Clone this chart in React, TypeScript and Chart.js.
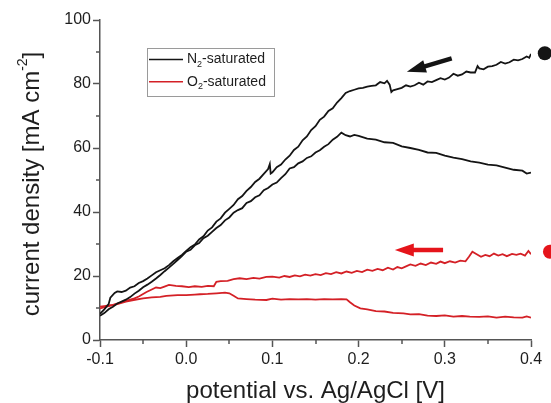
import React, { useEffect, useRef } from 'react';
import { Chart, registerables } from 'chart.js';

Chart.register(...registerables);

// ---------- data (potential in V vs. Ag/AgCl, current density in mA cm^-2) ----------
const n2ForwardV = [
  -0.1, -0.095, -0.09, -0.085, -0.08, -0.075, -0.07, -0.065, -0.06, -0.055, -0.05, -0.045, -0.04, -0.035,
  -0.03, -0.025, -0.02, -0.015, -0.01, -0.005, 0.0, 0.005, 0.01, 0.015, 0.02, 0.025, 0.03, 0.035, 0.04,
  0.045, 0.05, 0.055, 0.06, 0.065, 0.07, 0.075, 0.08, 0.085, 0.09, 0.095, 0.1, 0.105, 0.11, 0.115, 0.12,
  0.125, 0.13, 0.135, 0.14, 0.145, 0.15, 0.155, 0.16, 0.165, 0.17, 0.175, 0.18, 0.185, 0.19, 0.195, 0.2,
  0.21, 0.22, 0.23, 0.24, 0.25, 0.26, 0.27, 0.28, 0.29, 0.3, 0.31, 0.32, 0.33, 0.34, 0.35, 0.36, 0.37,
  0.38, 0.39, 0.395, 0.4,
];
const n2ForwardJ = [
  7.6, 8.4, 9.6, 10.4, 11.4, 12.0, 12.6, 13.4, 14.5, 15.4, 16.5, 17.3, 18.2, 19.2,
  20.3, 21.5, 22.6, 23.8, 25.0, 26.2, 27.6, 28.2, 29.6, 30.3, 31.8, 32.6, 33.8, 35.0, 35.9,
  37.4, 38.3, 39.8, 40.6, 41.2, 42.8, 43.4, 44.6, 45.2, 46.8, 47.5, 48.6, 49.2, 50.6, 51.8, 53.6,
  54.0, 55.2, 55.8, 56.9, 57.4, 58.6, 59.3, 60.4, 61.2, 62.6, 63.5, 64.8, 64.0, 63.6, 64.1, 63.8,
  62.9, 62.6, 61.8, 61.6, 60.5, 60.0, 59.4, 58.6, 58.5, 57.6, 57.0, 56.5, 55.8, 55.4, 54.8, 54.6, 53.9,
  53.2, 52.9, 52.0, 52.3,
];

const n2ReverseV = [
  0.4, 0.398, 0.395, 0.39, 0.385, 0.38, 0.375, 0.37, 0.365, 0.36, 0.355, 0.35, 0.345, 0.34, 0.338,
  0.335, 0.33, 0.325, 0.32, 0.315, 0.31, 0.305, 0.3, 0.295, 0.29, 0.285, 0.28, 0.275, 0.27, 0.265,
  0.26, 0.255, 0.25, 0.245, 0.24, 0.238, 0.236, 0.233, 0.23, 0.225, 0.22, 0.215, 0.21, 0.205, 0.2,
  0.195, 0.19, 0.185, 0.18, 0.175, 0.17, 0.165, 0.16, 0.155, 0.15, 0.145, 0.14, 0.135, 0.13, 0.125,
  0.12, 0.115, 0.11, 0.105, 0.1, 0.098, 0.097, 0.095, 0.09, 0.085, 0.08, 0.075, 0.07, 0.065, 0.06,
  0.055, 0.05, 0.045, 0.04, 0.035, 0.03, 0.025, 0.02, 0.015, 0.01, 0.005, 0.0, -0.005, -0.01, -0.015,
  -0.02, -0.025, -0.03, -0.035, -0.04, -0.045, -0.05, -0.055, -0.06, -0.065, -0.07, -0.075, -0.08,
  -0.083, -0.088, -0.09, -0.095, -0.1,
];
const n2ReverseJ = [
  89.4, 88.2, 88.6, 87.8, 87.4, 87.6, 86.8, 86.4, 86.9, 86.0, 85.6, 85.4, 84.6, 84.9, 85.6,
  83.6, 83.6, 83.9, 83.0, 82.6, 83.2, 82.0, 81.4, 81.8, 81.2, 80.6, 80.8, 79.8, 80.4, 79.6,
  79.2, 79.6, 78.8, 78.4, 78.0, 77.5, 79.8, 81.0, 80.2, 80.6, 79.6, 79.4, 79.2, 78.8, 78.6,
  78.2, 77.8, 77.2, 75.6, 74.2, 72.4, 71.6, 69.8, 68.8, 66.8, 65.6, 63.6, 62.4, 60.4, 59.4,
  57.6, 56.4, 54.8, 54.0, 52.4, 52.0, 55.0, 53.4, 51.9, 50.4, 49.4, 47.8, 46.6, 45.0, 44.0,
  42.2, 41.0, 39.8, 38.0, 37.0, 35.2, 34.2, 32.4, 31.4, 29.8, 29.0, 27.8, 26.6, 25.6, 24.6,
  23.4, 22.4, 21.8, 21.2, 20.2, 19.2, 18.4, 17.8, 16.8, 16.4, 15.4, 15.0, 15.2,
  14.7, 13.2, 11.2, 9.6, 8.2,
];

const o2ForwardV = [
  -0.1, -0.09, -0.08, -0.07, -0.061, -0.05, -0.04, -0.03, -0.023, -0.01, 0.0, 0.01, 0.016, 0.025,
  0.035, 0.045, 0.05, 0.055, 0.06, 0.07, 0.08, 0.093, 0.1, 0.11, 0.12, 0.13, 0.14, 0.15, 0.16, 0.17,
  0.18, 0.186, 0.19, 0.195, 0.202, 0.21, 0.22, 0.23, 0.24, 0.252, 0.26, 0.27, 0.28, 0.29, 0.3, 0.31,
  0.32, 0.329, 0.34, 0.35, 0.36, 0.37, 0.38, 0.39, 0.395, 0.4,
];
const o2ForwardJ = [
  9.9, 10.6, 11.2, 12.0, 12.5, 13.0, 13.3, 13.5, 13.8, 14.0, 14.0, 14.2, 14.3, 14.4,
  14.6, 14.8, 14.6, 13.8, 13.0, 12.8, 12.6, 12.5, 12.9, 12.6, 12.8, 12.7, 12.8, 12.6, 12.8, 12.7,
  12.8, 12.7, 11.8, 10.8, 9.9, 9.6, 9.0, 8.9, 8.5, 8.3, 8.0, 8.1, 7.6, 7.5, 7.7, 7.3,
  7.5, 7.3, 7.2, 7.4, 7.0, 7.3, 7.1, 7.0, 7.4, 7.0,
];

const o2ReverseV = [
  0.4, 0.397, 0.393, 0.388, 0.383, 0.378, 0.372, 0.367, 0.362, 0.357, 0.352, 0.347, 0.342, 0.337,
  0.332, 0.328, 0.324, 0.318, 0.312, 0.306, 0.3, 0.295, 0.29, 0.284, 0.278, 0.272, 0.266, 0.26, 0.255,
  0.25, 0.245, 0.24, 0.234, 0.228, 0.222, 0.216, 0.21, 0.204, 0.198, 0.192, 0.186, 0.18, 0.174, 0.168,
  0.162, 0.156, 0.15, 0.144, 0.138, 0.132, 0.126, 0.12, 0.114, 0.108, 0.1, 0.093, 0.085, 0.078, 0.07,
  0.062, 0.055, 0.048, 0.04, 0.035, 0.032, 0.025, 0.018, 0.01, 0.003, -0.005, -0.012, -0.02, -0.026,
  -0.03, -0.035, -0.04, -0.046, -0.05, -0.055, -0.06, -0.065, -0.07, -0.075, -0.08, -0.085, -0.09,
  -0.095, -0.1,
];
const o2ReverseJ = [
  26.8, 27.8, 26.4, 27.0, 26.6, 26.9, 26.2, 26.8, 26.4, 27.0, 26.2, 26.6, 26.0, 26.8,
  27.6, 26.0, 24.6, 24.8, 24.2, 24.6, 24.0, 24.5, 23.8, 24.2, 23.4, 23.9, 23.2, 23.6, 23.0,
  22.4, 22.8, 22.0, 22.6, 21.8, 22.2, 21.6, 22.0, 21.2, 21.6, 21.0, 21.4, 20.8, 21.2, 20.6,
  20.9, 20.3, 20.6, 20.1, 20.4, 19.9, 20.2, 19.7, 20.0, 19.5, 19.8, 19.7, 19.2, 19.4, 19.0,
  19.3, 19.0, 18.5, 18.4, 18.2, 16.8, 16.9, 16.6, 16.8, 16.5, 16.8, 16.9, 17.2, 16.6,
  16.2, 16.4, 15.8, 15.0, 14.4, 13.6, 13.0, 12.6, 12.2, 11.8, 11.4, 11.0, 10.8,
  10.6, 10.4,
];

// axis ticks
const xMajorTicks = [-0.1, 0.0, 0.1, 0.2, 0.3, 0.4];
const xMinorTicks = [-0.05, 0.05, 0.15, 0.25, 0.35];
const yMajorTicks = [0, 20, 40, 60, 80, 100];
const yMinorTicks = [10, 30, 50, 70, 90];

// legend
const legendBase = ['N', 'O'];
const legendSub = ['2', '2'];
const legendRest = ['-saturated', '-saturated'];

// annotations: scan-direction arrows and start markers
const arrowTailV = [0.308, 0.298];
const arrowTailJ = [88.0, 28.1];
const arrowTipV = [0.256, 0.242];
const arrowTipJ = [83.8, 28.1];
const markerV = [0.416, 0.422];
const markerJ = [89.6, 27.6];

// ---------- styling ----------
const BLACK = '#141414';
const RED = '#d42026';
const RED_MARK = '#e5141b';
const seriesColors = [BLACK, RED];
const markColors = [BLACK, RED_MARK];
const AXIS = '#555555';
const TEXT = '#1e1e1e';
const FONT = '"Liberation Sans", Arial, sans-serif';

const zip = (xs: number[], ys: number[]) => xs.map((v, i) => ({ x: v, y: ys[i] }));

const extrasPlugin = {
  id: 'extras',
  afterDraw(chart: any) {
    const { ctx, chartArea } = chart;
    const xs = chart.scales.x;
    const ys = chart.scales.y;
    ctx.save();

    // minor ticks
    ctx.strokeStyle = AXIS;
    ctx.lineWidth = 1.5;
    xMinorTicks.forEach((v) => {
      const px = Math.round(xs.getPixelForValue(v));
      ctx.beginPath();
      ctx.moveTo(px, chartArea.bottom);
      ctx.lineTo(px, chartArea.bottom + 4);
      ctx.stroke();
    });
    yMinorTicks.forEach((v) => {
      const py = Math.round(ys.getPixelForValue(v));
      ctx.beginPath();
      ctx.moveTo(chartArea.left, py);
      ctx.lineTo(chartArea.left - 4, py);
      ctx.stroke();
    });

    // arrows
    arrowTailV.forEach((_, i) => {
      const x0 = xs.getPixelForValue(arrowTailV[i]);
      const y0 = ys.getPixelForValue(arrowTailJ[i]);
      const x1 = xs.getPixelForValue(arrowTipV[i]);
      const y1 = ys.getPixelForValue(arrowTipJ[i]);
      const ang = Math.atan2(y1 - y0, x1 - x0);
      const headLen = 19;
      const headHalf = 6.5;
      const bx = x1 - headLen * Math.cos(ang);
      const by = y1 - headLen * Math.sin(ang);
      ctx.strokeStyle = markColors[i];
      ctx.fillStyle = markColors[i];
      ctx.lineWidth = 4.5;
      ctx.lineCap = 'butt';
      ctx.beginPath();
      ctx.moveTo(x0, y0);
      ctx.lineTo(bx + 2 * Math.cos(ang), by + 2 * Math.sin(ang));
      ctx.stroke();
      ctx.beginPath();
      ctx.moveTo(x1, y1);
      ctx.lineTo(bx + headHalf * Math.sin(ang), by - headHalf * Math.cos(ang));
      ctx.lineTo(bx - headHalf * Math.sin(ang), by + headHalf * Math.cos(ang));
      ctx.closePath();
      ctx.fill();
    });

    // start markers
    markerV.forEach((v, i) => {
      ctx.fillStyle = markColors[i];
      ctx.beginPath();
      ctx.arc(xs.getPixelForValue(v), ys.getPixelForValue(markerJ[i]), 7, 0, Math.PI * 2);
      ctx.fill();
    });

    // legend box
    const lx = chartArea.left + 47;
    const ly = chartArea.top + 28;
    const lw = 127;
    const lh = 48;
    ctx.strokeStyle = '#9a9a9a';
    ctx.lineWidth = 1;
    ctx.strokeRect(lx + 0.5, ly + 0.5, lw, lh);
    const rows = [11.5, 33.7];
    legendBase.forEach((b, i) => {
      const ry = ly + rows[i];
      ctx.strokeStyle = seriesColors[i];
      ctx.lineWidth = 1.5;
      ctx.beginPath();
      ctx.moveTo(lx + 2, ry);
      ctx.lineTo(lx + 36, ry);
      ctx.stroke();
      ctx.fillStyle = TEXT;
      ctx.textBaseline = 'middle';
      ctx.textAlign = 'left';
      let tx = lx + 40;
      ctx.font = `14px ${FONT}`;
      ctx.fillText(b, tx, ry);
      tx += ctx.measureText(b).width;
      ctx.font = `9px ${FONT}`;
      ctx.fillText(legendSub[i], tx, ry + 5);
      tx += ctx.measureText(legendSub[i]).width;
      ctx.font = `14px ${FONT}`;
      ctx.fillText(legendRest[i], tx, ry);
    });

    // y-axis title with superscript
    const t1 = 'current density [mA cm';
    const tSup = '-2';
    const t2 = ']';
    ctx.save();
    ctx.translate(32, (chartArea.top + chartArea.bottom) / 2 + 4);
    ctx.rotate(-Math.PI / 2);
    ctx.fillStyle = TEXT;
    ctx.textBaseline = 'middle';
    ctx.textAlign = 'left';
    ctx.font = `24px ${FONT}`;
    const w1 = ctx.measureText(t1).width;
    const w3 = ctx.measureText(t2).width;
    ctx.font = `14px ${FONT}`;
    const w2 = ctx.measureText(tSup).width;
    let sx = -(w1 + w2 + w3) / 2;
    ctx.font = `24px ${FONT}`;
    ctx.fillText(t1, sx, 0);
    sx += w1;
    ctx.font = `14px ${FONT}`;
    ctx.fillText(tSup, sx, -9);
    sx += w2;
    ctx.font = `24px ${FONT}`;
    ctx.fillText(t2, sx, 0);
    ctx.restore();

    ctx.restore();
  },
};

export default function App() {
  const canvasRef = useRef<HTMLCanvasElement | null>(null);

  useEffect(() => {
    if (!canvasRef.current) return;
    const chart = new Chart(canvasRef.current, {
      type: 'scatter',
      data: {
        datasets: [
          { label: 'N2 forward', data: zip(n2ForwardV, n2ForwardJ), borderColor: BLACK },
          { label: 'N2 reverse', data: zip(n2ReverseV, n2ReverseJ), borderColor: BLACK },
          { label: 'O2 forward', data: zip(o2ForwardV, o2ForwardJ), borderColor: RED },
          { label: 'O2 reverse', data: zip(o2ReverseV, o2ReverseJ), borderColor: RED },
        ].map((d) => ({
          ...d,
          showLine: true,
          pointRadius: 0,
          borderWidth: 1.8,
          tension: 0,
          fill: false,
        })),
      },
      options: {
        animation: false,
        responsive: false,
        devicePixelRatio: 1,
        layout: { padding: { top: 20, right: 20, bottom: 0, left: 0 } },
        plugins: { legend: { display: false }, tooltip: { enabled: false } },
        scales: {
          x: {
            type: 'linear',
            min: -0.1,
            max: 0.4,
            afterBuildTicks: (s: any) => {
              s.ticks = xMajorTicks.map((v) => ({ value: v }));
            },
            afterFit: (s: any) => {
              s.height = 63;
            },
            ticks: {
              callback: (v: any) => Number(v).toFixed(1),
              color: TEXT,
              font: { family: FONT, size: 16 },
              padding: 3,
              maxRotation: 0,
            },
            grid: { drawOnChartArea: false, drawTicks: true, tickLength: 7, color: AXIS, tickWidth: 1.5 },
            border: { color: AXIS, width: 1.5 },
            title: {
              display: true,
              text: 'potential vs. Ag/AgCl [V]',
              color: TEXT,
              font: { family: FONT, size: 24, lineHeight: 1 },
              padding: { top: 0, bottom: 0 },
            },
          },
          y: {
            type: 'linear',
            min: 0,
            max: 100,
            afterBuildTicks: (s: any) => {
              s.ticks = yMajorTicks.map((v) => ({ value: v }));
            },
            afterFit: (s: any) => {
              s.width = 100;
            },
            ticks: {
              color: TEXT,
              font: { family: FONT, size: 16 },
              padding: 2,
            },
            grid: { drawOnChartArea: false, drawTicks: true, tickLength: 7, color: AXIS, tickWidth: 1.5 },
            border: { color: AXIS, width: 1.5 },
          },
        },
      },
      plugins: [extrasPlugin],
    });
    return () => chart.destroy();
  }, []);

  return (
    <div style={{ position: 'fixed', left: 0, top: 0, width: 551, height: 403, background: '#fff' }}>
      <canvas ref={canvasRef} width={551} height={403} />
    </div>
  );
}
